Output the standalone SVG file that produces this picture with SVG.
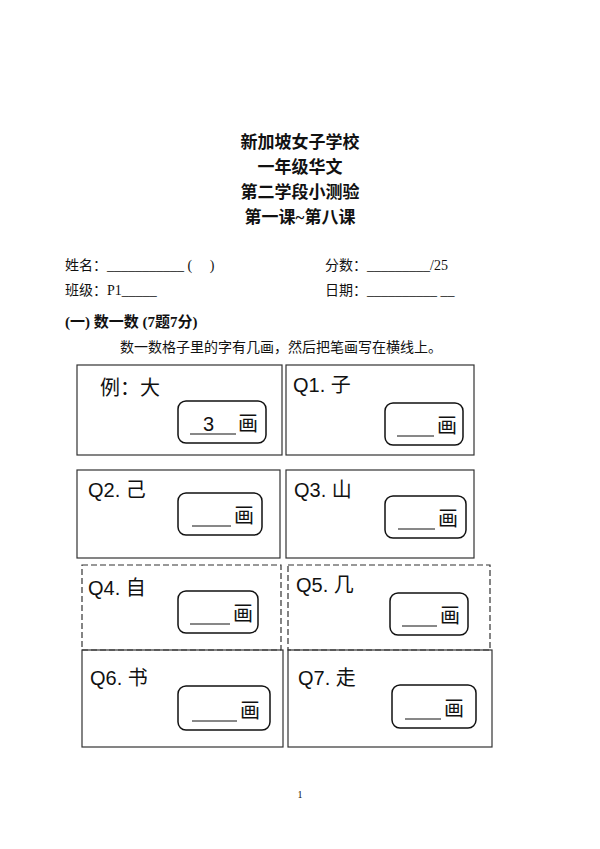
<svg xmlns="http://www.w3.org/2000/svg" width="600" height="849" viewBox="0 0 600 849">
<style>
.t{font-family:"Liberation Serif","Noto Sans CJK SC",serif;fill:#111}
.h{font-size:17px;font-weight:bold;text-anchor:middle}
.f{font-size:14px}
.q{font-size:20px;font-family:"Liberation Sans","Noto Sans CJK SC",sans-serif;fill:#111}
.b{fill:none;stroke:#333;stroke-width:1.2}
.i{fill:none;stroke:#111;stroke-width:1.5}
.l{stroke:#111;stroke-width:1}
</style>
<rect width="600" height="849" fill="#fff"/>
<g id="header">
<text class="t h" x="300" y="148">新加坡女子学校</text>
<text class="t h" x="300" y="173">一年级华文</text>
<text class="t h" x="300" y="198">第二学段小测验</text>
<text class="t h" x="300" y="223">第一课~第八课</text>
<text class="t f" x="65" y="270">姓名：___________ (&#160;&#160;&#160;&#160;&#160;)</text>
<text class="t f" x="325" y="270">分数：_________/25</text>
<text class="t f" x="65" y="295">班级：P1_____</text>
<text class="t f" x="325" y="295">日期：__________ __</text>
<text class="t" x="65" y="327" font-size="15" font-weight="bold">(一) 数一数 (7题7分)</text>
<text class="t f" x="120" y="352">数一数格子里的字有几画，然后把笔画写在横线上。</text>
<text class="t" x="300" y="798" font-size="10" text-anchor="middle">1</text>
</g>
<g id="ex">
<rect class="b" x="77" y="365" width="205" height="90"/>
<text class="q" x="100" y="395">例：大</text>
<rect class="i" x="178" y="401" width="88" height="42" rx="8"/>
<text class="q" x="203" y="431">3</text><line class="l" x1="190" y1="434" x2="236" y2="434"/>
<text class="q" x="238" y="431">画</text>
</g>
<g id="q1">
<rect class="b" x="286" y="365" width="188" height="90"/>
<text class="q" x="293" y="392">Q1. 子</text>
<rect class="i" x="385" y="403" width="78" height="42" rx="8"/>
<text class="q" x="437" y="433">画</text><line class="l" x1="397" y1="436" x2="434" y2="436"/>
</g>
<g id="q2">
<rect class="b" x="77" y="470" width="203" height="88"/>
<text class="q" x="88" y="497">Q2. 己</text>
<rect class="i" x="178" y="493" width="84" height="42" rx="8"/>
<text class="q" x="234" y="523">画</text><line class="l" x1="192" y1="526" x2="231" y2="526"/>
</g>
<g id="q3">
<rect class="b" x="286" y="470" width="188" height="88"/>
<text class="q" x="294" y="497">Q3. 山</text>
<rect class="i" x="385" y="496" width="81" height="42" rx="8"/>
<text class="q" x="438" y="526">画</text><line class="l" x1="398" y1="529" x2="435" y2="529"/>
</g>
<g id="q4">
<rect class="b" x="82" y="565" width="199" height="85" stroke-dasharray="6 3"/>
<text class="q" x="88" y="595">Q4. 自</text>
<rect class="i" x="178" y="591" width="80" height="42" rx="8"/>
<text class="q" x="233" y="621">画</text><line class="l" x1="190" y1="624" x2="230" y2="624"/>
</g>
<g id="q5">
<rect class="b" x="288" y="565" width="202" height="85" stroke-dasharray="6 3"/>
<text class="q" x="296" y="592">Q5. 几</text>
<rect class="i" x="390" y="593" width="78" height="42" rx="8"/>
<text class="q" x="440" y="623">画</text><line class="l" x1="402" y1="626" x2="437" y2="626"/>
</g>
<g id="q6">
<rect class="b" x="82" y="650" width="201" height="97"/>
<text class="q" x="90" y="685">Q6. 书</text>
<rect class="i" x="178" y="686" width="92" height="44" rx="8"/>
<text class="q" x="240" y="718">画</text><line class="l" x1="192" y1="721" x2="237" y2="721"/>
</g>
<g id="q7">
<rect class="b" x="288" y="650" width="204" height="97"/>
<text class="q" x="298" y="685">Q7. 走</text>
<rect class="i" x="392" y="685" width="84" height="43" rx="8"/>
<text class="q" x="444" y="716">画</text><line class="l" x1="405" y1="719" x2="441" y2="719"/>
</g>
<g id="connectors"></g>
</svg>
